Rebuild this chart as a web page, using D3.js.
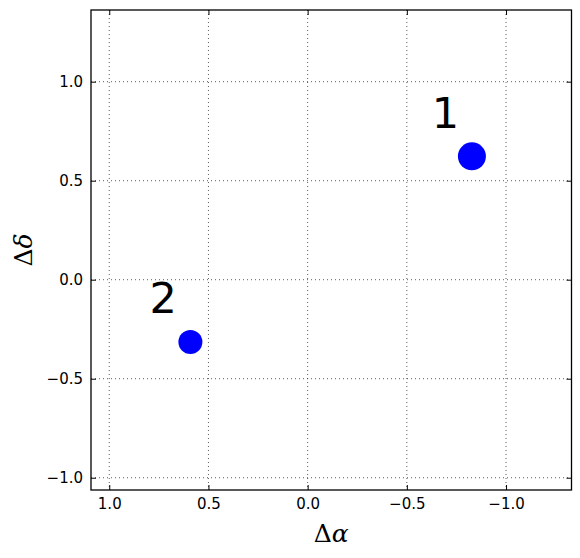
<!DOCTYPE html>
<html>
<head>
<meta charset="utf-8">
<script src="https://cdn.jsdelivr.net/npm/d3@7"></script>
<style>
  body { margin: 0; background: #fff; }
</style>
</head>
<body>
<div id="chart"></div>
<script>
// offsets (arcsec) of the two sources
const ids = ["1", "2"];
const dAlpha = [-0.828, 0.591];
const dDelta = [0.623, -0.315];
const sizes = [14, 12];
// where the number labels sit, in data units
const labelAlpha = [-0.694, 0.728];
const labelDelta = [0.766, -0.166];
const tickValues = [1.0, 0.5, 0.0, -0.5, -1.0];

const W = 580, H = 558;
const margin = {left: 91, right: 8.5, top: 10, bottom: 68};
const width = W - margin.left - margin.right;
const height = H - margin.top - margin.bottom;

const svg = d3.select("#chart").append("svg")
    .attr("width", W)
    .attr("height", H);

const g = svg.append("g")
    .attr("transform", `translate(${margin.left},${margin.top})`);

// x is reversed, RA grows to the left
const x = d3.scaleLinear().domain([1.092, -1.33]).range([0, width]);
const y = d3.scaleLinear().domain([-1.062, 1.362]).range([height, 0]);

//Dotted grid
g.append("g").selectAll("line").data(tickValues).join("line")
    .attr("x1", d => x(d)).attr("x2", d => x(d))
    .attr("y1", 0).attr("y2", height)
    .attr("stroke", "#333").attr("stroke-width", 0.8)
    .attr("stroke-dasharray", "1,3");
g.append("g").selectAll("line").data(tickValues).join("line")
    .attr("y1", d => y(d)).attr("y2", d => y(d))
    .attr("x1", 0).attr("x2", width)
    .attr("stroke", "#333").attr("stroke-width", 0.8)
    .attr("stroke-dasharray", "1,3");

const fmt = d3.format(".1f");

//Axes with inward ticks on all four sides
const xb = g.append("g").attr("transform", `translate(0,${height})`)
    .call(d3.axisBottom(x).tickValues(tickValues).tickFormat(fmt).tickSize(-5).tickPadding(8));
const xt = g.append("g")
    .call(d3.axisTop(x).tickValues(tickValues).tickFormat("").tickSize(-5));
const yl = g.append("g")
    .call(d3.axisLeft(y).tickValues(tickValues).tickFormat(fmt).tickSize(-5).tickPadding(8));
const yr = g.append("g").attr("transform", `translate(${width},0)`)
    .call(d3.axisRight(y).tickValues(tickValues).tickFormat("").tickSize(-5));
[xb, xt, yl, yr].forEach(a => {
    a.select(".domain").remove();
    a.selectAll(".tick line").attr("stroke", "#000");
    a.selectAll(".tick text")
        .attr("font-family", "DejaVu Sans, sans-serif")
        .attr("font-size", 15)
        .attr("fill", "#000");
});

//Frame
g.append("rect")
    .attr("width", width).attr("height", height)
    .attr("fill", "none").attr("stroke", "#000").attr("stroke-width", 1.3);

//Sources
g.selectAll("circle.src").data(ids).join("circle")
    .attr("class", "src")
    .attr("cx", (d, i) => x(dAlpha[i]))
    .attr("cy", (d, i) => y(dDelta[i]))
    .attr("r", (d, i) => sizes[i])
    .attr("fill", "#0000ff");

g.selectAll("text.lab").data(ids).join("text")
    .attr("class", "lab")
    .attr("x", (d, i) => x(labelAlpha[i]))
    .attr("y", (d, i) => y(labelDelta[i]))
    .attr("text-anchor", "middle")
    .attr("font-family", "DejaVu Sans, sans-serif")
    .attr("font-size", 43)
    .text(d => d);

//Axis labels
const xlab = svg.append("text")
    .attr("x", margin.left + width / 2)
    .attr("y", 542)
    .attr("text-anchor", "middle")
    .attr("font-family", "DejaVu Serif, serif")
    .attr("font-size", 25);
xlab.append("tspan").text("Δ");
xlab.append("tspan").attr("font-style", "italic").text("α");

const ylab = svg.append("text")
    .attr("transform", `translate(32,${margin.top + height / 2}) rotate(-90)`)
    .attr("text-anchor", "middle")
    .attr("font-family", "DejaVu Serif, serif")
    .attr("font-size", 25);
ylab.append("tspan").text("Δ");
ylab.append("tspan").attr("font-style", "italic").text("δ");
</script>
</body>
</html>
